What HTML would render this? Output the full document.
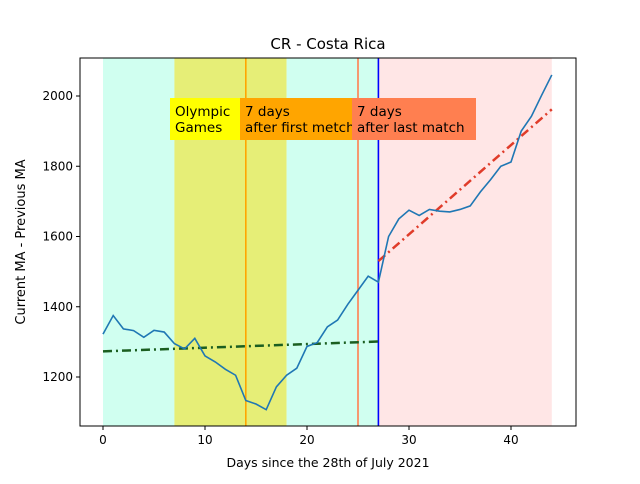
<!DOCTYPE html>
<html><head><meta charset="utf-8"><style>
body{margin:0;background:#fff;font-family:"DejaVu Sans","Liberation Sans",sans-serif}
</style></head><body>
<svg id="c" width="640" height="480" xmlns="http://www.w3.org/2000/svg" font-family="DejaVu Sans, Liberation Sans, sans-serif"></svg>
<script>
const days=[];for(let i=0;i<=44;i++)days.push(i);
const values=[1322,1375,1337,1332,1313,1333,1328,1295,1280,1310,1260,1243,1222,1205,1133,1123,1107,1172,1205,1225,1287,1298,1343,1362,1407,1447,1487,1470,1600,1650,1675,1660,1677,1672,1670,1677,1687,1727,1762,1800,1812,1900,1942,2002,2060];
const fitBefore=[[0,1273],[27,1301]];
const fitAfter=[[27,1530],[44,1962]];
const spans=[[0,7,'#d0fff0'],[7,18,'#e6ee77'],[18,27,'#d0fff0'],[27,44,'#ffe6e6']];
const vlines=[[14,'#ffa500'],[25,'#ff7f50'],[27,'#0000ff']];
const xTicks=[0,10,20,30,40];
const yTicks=[1200,1400,1600,1800,2000];
const L=80,R=576,T=58,B=426;
const X=d=>103+d*10.2;
const Y=v=>377-(v-1200)*0.35125;
const svg=document.getElementById('c');const NS='http://www.w3.org/2000/svg';
function mk(t,a,p){const e=document.createElementNS(NS,t);for(const k in a)e.setAttribute(k,a[k]);(p||svg).appendChild(e);return e;}
spans.forEach(s=>{const r=mk('rect',{x:X(s[0]),y:T,width:X(s[1])-X(s[0]),height:B-T,fill:s[2]});

});
vlines.forEach(v=>{const l=mk('line',{x1:X(v[0]),x2:X(v[0]),y1:T,y2:B,stroke:v[1],'stroke-width':1.6});

});
function fit(f,c,n){const l=mk('line',{x1:X(f[0][0]),y1:Y(f[0][1]),x2:X(f[1][0]),y2:Y(f[1][1]),stroke:c,'stroke-width':2.5,'stroke-dasharray':'9,4,2,4'});

}
fit(fitBefore,'#1b5e20','trend-before');fit(fitAfter,'#e03c2a','trend-after');
const p=mk('polyline',{points:days.map((d,i)=>X(d)+','+Y(values[i])).join(' '),fill:'none',stroke:'#1f77b4','stroke-width':1.6});


const boxes=[[170,240,'#ffff00',['Olympic','Games']],[240,352,'#ffa500',['7 days','after first metch']],[352,476,'#ff7f50',['7 days','after last match']]];
boxes.forEach(b=>{const g=mk('g',{});
mk('rect',{x:b[0],y:98,width:b[1]-b[0],height:42,fill:b[2]},g);
b[3].forEach((t,i)=>{const e=mk('text',{x:b[0]+5,y:116+i*16,'font-size':13.5,fill:'#000'},g);e.textContent=t;});});
mk('rect',{x:L,y:T,width:R-L,height:B-T,fill:'none',stroke:'#000','stroke-width':1});
xTicks.forEach(t=>{mk('line',{x1:X(t),x2:X(t),y1:B,y2:B+4,stroke:'#000'});const e=mk('text',{x:X(t),y:B+18,'font-size':12,'text-anchor':'middle'});e.textContent=t;
});
yTicks.forEach(t=>{mk('line',{x1:L-4,x2:L,y1:Y(t),y2:Y(t),stroke:'#000'});const e=mk('text',{x:L-7,y:Y(t)+4,'font-size':12,'text-anchor':'end'});e.textContent=t;
});
let e=mk('text',{x:328,y:49,'font-size':15,'text-anchor':'middle'});e.textContent='CR - Costa Rica';

e=mk('text',{x:328,y:467,'font-size':12.5,'text-anchor':'middle'});e.textContent='Days since the 28th of July 2021';

e=mk('text',{x:25,y:242,'font-size':13,'text-anchor':'middle',transform:'rotate(-90 25 242)'});e.textContent='Current MA - Previous MA';

</script>
</body></html>
